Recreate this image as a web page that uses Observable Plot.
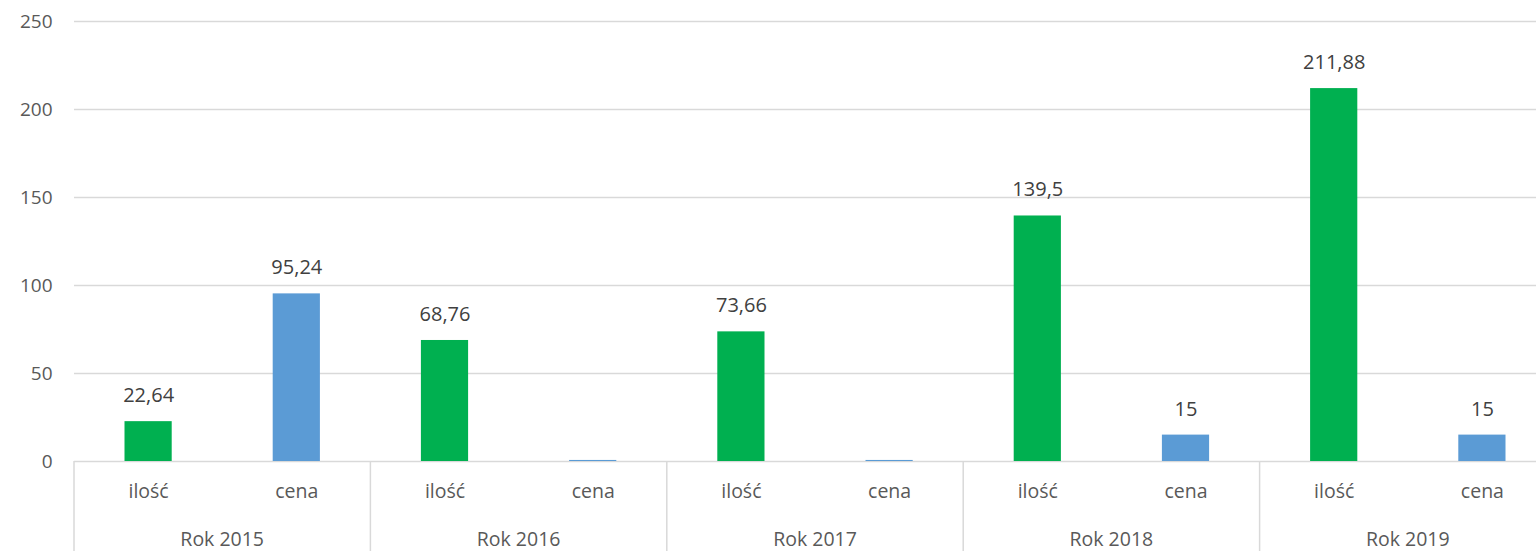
<!DOCTYPE html>
<html><head><meta charset="utf-8">
<script src="https://cdn.jsdelivr.net/npm/d3@7"></script>
<script src="https://cdn.jsdelivr.net/npm/@observablehq/plot@0.6"></script>
<style>body{margin:0;overflow:hidden;background:#fff} svg{max-width:none !important}</style>
</head><body><div id="chart"></div>
<script>
const years = ["2015", "2016", "2017", "2018", "2019"];
const types = ["ilość", "cena"];
const iloscValues = [22.64, 68.76, 73.66, 139.5, 211.88];
const cenaValues = [95.24, 0.6, 0.6, 15, 15];
const yTicks = [0, 50, 100, 150, 200, 250];
const colors = {"ilość": "#00b050", "cena": "#5b9bd5"};

const key = (yr, t) => yr + "|" + t;
const rows = years.flatMap((yr, i) => [
  {year: yr, type: "ilość", value: iloscValues[i]},
  {year: yr, type: "cena", value: cenaValues[i]}
]);
const fmt = v => String(v).replace(".", ",");
const FONT = "'Open Sans', sans-serif";

function groupAxis(index, scales, values, dimensions) {
  const x = scales.x;
  const bw = x.bandwidth();
  const y0 = dimensions.height - dimensions.marginBottom;
  const g = d3.create("svg:g");
  years.forEach(yr => {
    const x0 = x(key(yr, "ilość"));
    const x1 = x(key(yr, "cena")) + bw;
    g.append("line").attr("x1", x0).attr("x2", x0).attr("y1", y0).attr("y2", dimensions.height)
      .attr("stroke", "#d9d9d9").attr("stroke-width", 1.5);
    g.append("text").attr("x", (x0 + x1) / 2).attr("y", y0 + 77.5)
      .attr("text-anchor", "middle").attr("dominant-baseline", "central")
      .attr("fill", "#595959").attr("font-size", 19.5).attr("font-family", FONT)
      .text("Rok " + yr);
  });
  return g.node();
}

const chart = Plot.plot({
  width: 1556,
  height: 551,
  marginLeft: 74,
  marginRight: 0,
  marginTop: 21,
  marginBottom: 90,
  style: {fontFamily: FONT, fontSize: "19px", color: "#595959", background: "#fff", maxWidth: "none"},
  x: {type: "band", domain: years.flatMap(yr => types.map(t => key(yr, t))), padding: 0, round: false, axis: null},
  y: {domain: [0, 250], axis: null, label: null},
  marks: [
    Plot.ruleY(yTicks, {stroke: "#d9d9d9", strokeWidth: 1.3}),
    Plot.axisY({ticks: yTicks, tickSize: 0, tickPadding: 22, fontSize: 19, fill: "#595959", label: null}),
    Plot.barY(rows, {x: d => key(d.year, d.type), y: "value", fill: d => colors[d.type], insetLeft: 50.5, insetRight: 50.5}),
    Plot.text(rows.filter(d => d.value >= 1), {x: d => key(d.year, d.type), y: "value", text: d => fmt(d.value), dy: -26, fill: "#404040", fontSize: 20}),
    Plot.axisX({tickSize: 0, tickPadding: 23, tickFormat: k => k.split("|")[1], fontSize: 19.5, fill: "#595959", label: null}),
    groupAxis
  ]
});
document.getElementById("chart").appendChild(chart);
</script>
</body></html>
